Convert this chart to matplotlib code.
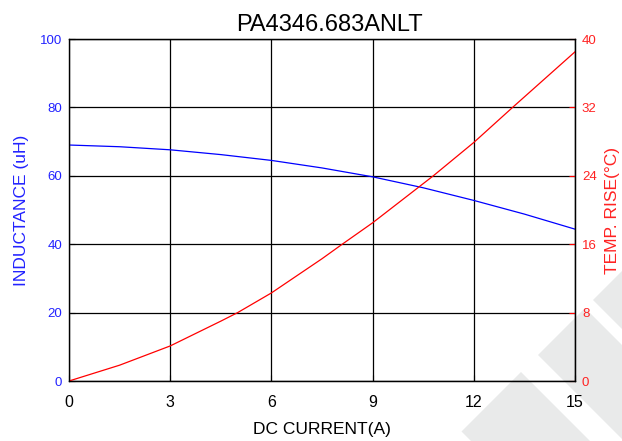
import numpy as np
import matplotlib
matplotlib.use('Agg')
import matplotlib.pyplot as plt
from matplotlib.patches import Polygon

plt.rcParams['font.family'] = ['Liberation Sans', 'DejaVu Sans']

# DC current (A)
current = [0, 1.5, 3, 4.5, 6, 7.5, 9, 10.5, 12, 13.5, 15]
# Inductance (uH)
inductance = [69.0, 68.5, 67.6, 66.2, 64.5, 62.3, 59.7, 56.5, 52.8, 48.8, 44.4]

# Temperature rise (deg C)
temp_current = [0, 1.5, 3, 4.5, 5.0, 6, 7.5, 8.1, 9, 10.8, 12, 13.15, 15]
temp_rise = [0, 1.85, 4.1, 7.0, 8.0, 10.3, 14.3, 16.0, 18.5, 24.0, 27.9, 32.0, 38.5]

x_ticks = [0, 3, 6, 9, 12, 15]
left_ticks = [0, 20, 40, 60, 80, 100]
right_ticks = [0, 8, 16, 24, 32, 40]

W, H = 622, 441
fig = plt.figure(figsize=(W / 100, H / 100), dpi=100)

# grey watermark stripes (bottom right), drawn in pixel coords u=x-y, v=x+y
for u0, u1 in [(293, 700), (183, 277), (30, 149)]:
    pts = []
    for u, v in [(u0, 893), (u1, 893), (u1, 2000), (u0, 2000)]:
        px, py = (u + v) / 2, (v - u) / 2
        pts.append((px / W, 1 - py / H))
    fig.patches.append(Polygon(pts, closed=True, transform=fig.transFigure,
                               facecolor='#e9eaea', edgecolor='none', zorder=-1))

ax = fig.add_axes([69 / W, 1 - 381 / H, 506 / W, 342 / H])
ax.set_facecolor('none')
ax2 = ax.twinx()
ax2.set_facecolor('none')

ax.plot(current, inductance, color='blue', lw=0.9)
ax2.plot(temp_current, temp_rise, color='red', lw=0.9)

ax.set_xlim(0, 15)
ax.set_ylim(0, 100)
ax2.set_ylim(0, 40)
ax.set_xticks(x_ticks)
ax.set_yticks(left_ticks)
ax2.set_yticks(right_ticks)

ax.grid(True, color='black', lw=0.9)
ax.tick_params(axis='x', direction='in', length=4, labelsize=11.5, pad=10)
ax.tick_params(axis='y', direction='in', length=4, labelsize=9.5,
               labelcolor='#2222ff', pad=5)
ax2.tick_params(axis='y', direction='in', length=4, color='red',
                labelsize=9.5, labelcolor='#ff2222', pad=5)

for a in (ax, ax2):
    for s in a.spines.values():
        s.set_color('black')
        s.set_linewidth(0.9)
ax.spines['left'].set_color('#555555')

ax.set_xlabel('DC CURRENT(A)', fontsize=12.5, labelpad=9)
ax.set_ylabel('INDUCTANCE (uH)', fontsize=12.5, color='#2222ff', labelpad=8)
ax2.set_ylabel('TEMP. RISE(°C)', fontsize=12.5, color='#ff2222', labelpad=6)
ax.set_title('PA4346.683ANLT', fontsize=17, pad=6, x=0.515)

fig.savefig('out.png', dpi=100)
